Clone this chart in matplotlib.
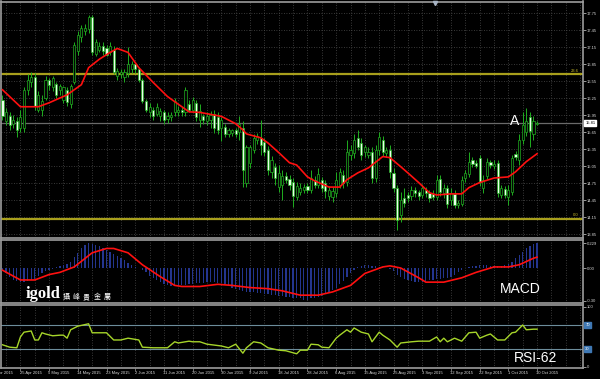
import matplotlib.pyplot as plt
from matplotlib.transforms import blended_transform_factory

plt.rcParams['font.family'] = ['Liberation Sans', 'Noto Sans CJK TC', 'DejaVu Sans']

# daily OHLC (silver), 150 bars
opens = [16.22, 15.84, 15.93, 15.80, 15.84, 15.73, 15.73, 16.40, 16.54, 16.63,
         16.05, 16.05, 16.26, 16.58, 16.44, 16.51, 16.40, 16.22, 16.40, 16.14,
         16.54, 17.08, 17.34, 17.43, 17.47, 17.68, 17.04, 17.11, 17.17, 17.13,
         17.06, 17.11, 16.65, 16.67, 16.63, 16.69, 16.76, 16.85, 16.77, 16.58,
         16.21, 16.00, 16.05, 15.98, 15.93, 16.01, 15.89, 15.91, 16.00, 16.01,
         16.05, 16.01, 16.14, 16.05, 16.17, 15.87, 15.94, 15.84, 15.87, 15.98,
         15.91, 15.73, 15.75, 15.61, 15.64, 15.68, 15.66, 15.73, 14.76, 15.11,
         15.34, 15.52, 15.55, 15.48, 15.34, 14.95, 15.04, 14.68, 14.72, 14.88,
         14.83, 14.77, 14.51, 14.60, 14.63, 14.70, 14.63, 14.81, 14.72, 14.81,
         14.76, 14.52, 14.51, 14.58, 14.72, 14.90, 14.77, 15.25, 15.29, 15.55,
         15.46, 15.30, 15.25, 15.30, 14.84, 15.34, 15.52, 15.29, 15.34, 14.93,
         14.67, 14.19, 14.49, 14.54, 14.52, 14.63, 14.60, 14.54, 14.63, 14.58,
         14.56, 14.51, 14.83, 14.58, 14.67, 14.45, 14.56, 14.37, 14.38, 14.84,
         14.91, 15.16, 15.11, 15.20, 14.67, 14.88, 15.13, 15.06, 15.11, 14.54,
         14.65, 14.51, 14.60, 15.27, 15.16, 15.52, 15.66, 15.91, 15.62, 15.80]
highs = [16.31, 16.08, 16.00, 15.96, 15.91, 16.05, 16.44, 16.67, 16.72, 16.69,
         16.37, 16.30, 16.65, 16.61, 16.65, 16.54, 16.51, 16.47, 16.44, 16.51,
         17.25, 17.43, 17.55, 17.57, 17.73, 17.73, 17.29, 17.25, 17.24, 17.20,
         17.24, 17.17, 16.79, 16.76, 16.76, 17.15, 16.90, 16.88, 16.81, 16.61,
         16.24, 16.16, 16.10, 16.16, 16.08, 16.05, 16.01, 16.00, 16.26, 16.12,
         16.10, 16.44, 16.22, 16.28, 16.22, 16.14, 15.98, 16.00, 16.03, 16.05,
         16.00, 15.91, 15.80, 15.73, 15.71, 15.73, 15.94, 15.84, 15.43, 15.43,
         15.62, 15.64, 15.87, 15.55, 15.41, 15.23, 15.11, 15.07, 14.99, 14.95,
         14.90, 14.84, 14.77, 14.76, 14.74, 14.76, 14.99, 14.88, 15.02, 14.86,
         14.81, 14.70, 14.68, 14.95, 15.02, 14.99, 15.52, 15.43, 15.61, 15.69,
         15.55, 15.43, 15.38, 15.38, 15.43, 15.66, 15.59, 15.39, 15.43, 15.02,
         14.72, 14.60, 14.67, 14.60, 14.70, 14.68, 14.63, 14.74, 14.68, 14.63,
         14.63, 14.90, 14.90, 14.74, 14.72, 14.67, 14.63, 14.45, 14.88, 14.99,
         15.30, 15.22, 15.16, 15.25, 14.90, 15.20, 15.16, 15.16, 15.16, 14.72,
         14.70, 14.72, 15.25, 15.32, 15.61, 16.00, 16.08, 16.00, 15.94, 15.85]
lows = [15.87, 15.78, 15.69, 15.73, 15.57, 15.66, 15.66, 16.31, 16.44, 16.05,
        16.00, 15.94, 16.22, 16.40, 16.37, 16.26, 16.31, 16.17, 16.12, 16.08,
        16.51, 17.02, 17.25, 17.36, 17.41, 17.02, 16.99, 17.06, 17.02, 16.99,
        17.01, 16.67, 16.58, 16.61, 16.54, 16.63, 16.69, 16.70, 16.54, 16.16,
        16.00, 15.91, 15.87, 15.93, 15.85, 15.80, 15.82, 15.84, 15.94, 15.94,
        15.93, 15.94, 16.00, 16.00, 15.84, 15.75, 15.80, 15.77, 15.73, 15.64,
        15.61, 15.50, 15.57, 15.57, 15.59, 15.57, 15.52, 14.68, 14.68, 15.02,
        15.29, 15.45, 15.25, 15.23, 14.90, 14.84, 14.72, 14.60, 14.45, 14.76,
        14.63, 14.33, 14.45, 14.54, 14.58, 14.58, 14.58, 14.67, 14.67, 14.60,
        14.49, 14.45, 14.42, 14.51, 14.67, 14.67, 14.70, 15.16, 15.20, 15.34,
        15.16, 15.22, 15.20, 14.76, 14.77, 15.25, 15.23, 15.22, 14.84, 14.60,
        13.92, 14.06, 14.33, 14.42, 14.45, 14.51, 14.45, 14.49, 14.51, 14.42,
        14.45, 14.45, 14.52, 14.49, 14.31, 14.37, 14.31, 14.31, 14.35, 14.77,
        14.86, 15.04, 15.02, 14.70, 14.58, 14.83, 15.02, 15.00, 14.51, 14.49,
        14.49, 14.37, 14.54, 15.16, 15.07, 15.45, 15.59, 15.38, 15.52, 15.78]
closes = [15.93, 16.00, 15.77, 15.87, 15.69, 15.91, 16.40, 16.58, 16.63, 16.12,
          16.31, 16.21, 16.58, 16.49, 16.61, 16.31, 16.46, 16.44, 16.19, 16.47,
          17.20, 17.36, 17.50, 17.50, 17.68, 17.06, 17.24, 17.17, 17.08, 17.02,
          17.17, 16.72, 16.74, 16.72, 16.72, 16.86, 16.85, 16.76, 16.58, 16.21,
          16.05, 16.10, 15.93, 16.10, 16.03, 15.87, 15.94, 15.96, 16.21, 16.05,
          16.00, 16.40, 16.05, 16.22, 15.91, 16.03, 15.87, 15.94, 15.96, 15.73,
          15.69, 15.87, 15.62, 15.69, 15.68, 15.62, 15.80, 14.99, 15.38, 15.38,
          15.55, 15.59, 15.43, 15.30, 14.99, 15.16, 14.84, 14.93, 14.88, 14.81,
          14.72, 14.52, 14.70, 14.67, 14.68, 14.63, 14.84, 14.72, 14.91, 14.67,
          14.61, 14.63, 14.61, 14.81, 14.95, 14.76, 15.30, 15.34, 15.52, 15.39,
          15.25, 15.38, 15.30, 14.84, 15.34, 15.57, 15.30, 15.34, 14.95, 14.67,
          14.10, 14.45, 14.40, 14.49, 14.63, 14.58, 14.52, 14.67, 14.58, 14.49,
          14.51, 14.81, 14.60, 14.67, 14.38, 14.58, 14.37, 14.40, 14.81, 14.93,
          15.13, 15.09, 15.06, 14.77, 14.81, 15.13, 15.07, 15.09, 14.58, 14.67,
          14.54, 14.63, 15.20, 15.22, 15.52, 15.78, 15.84, 15.68, 15.84, 15.81]

# moving average (red), read at some bars
ma_bar = [0, 5, 10, 13, 18, 22, 24, 27, 30, 32, 35, 38, 42, 46, 50, 52, 55, 61, 65, 67,
          68, 72, 74, 77, 80, 82, 85, 87, 91, 94, 96, 99, 102, 106, 108, 111, 113, 116,
          119, 121, 125, 128, 130, 133, 137, 141, 143, 146, 149]
ma_val = [16.40, 16.10, 16.10, 16.17, 16.31, 16.49, 16.79, 16.94, 17.06, 17.13, 17.06,
          16.79, 16.53, 16.28, 16.10, 16.01, 16.00, 15.93, 15.80, 15.69, 15.62, 15.55,
          15.46, 15.29, 15.11, 15.07, 14.86, 14.79, 14.68, 14.68, 14.81, 14.93, 15.02,
          15.22, 15.20, 15.04, 14.93, 14.76, 14.58, 14.54, 14.56, 14.56, 14.67, 14.76,
          14.84, 14.86, 14.95, 15.13, 15.27]

macd_hist = [-0.03, -0.05, -0.08, -0.11, -0.12, -0.13, -0.13, -0.12, -0.11, -0.10,
             -0.07, -0.05, -0.03, -0.02, -0.01, 0.01, 0.02, 0.03, 0.04, 0.06,
             0.10, 0.14, 0.18, 0.21, 0.23, 0.22, 0.21, 0.20, 0.18, 0.17,
             0.15, 0.13, 0.11, 0.09, 0.07, 0.05, 0.03, 0.01, 0.00, -0.02,
             -0.04, -0.07, -0.09, -0.11, -0.13, -0.15, -0.16, -0.17, -0.17, -0.17,
             -0.16, -0.16, -0.15, -0.15, -0.14, -0.14, -0.14, -0.13, -0.13, -0.13,
             -0.14, -0.14, -0.15, -0.16, -0.18, -0.19, -0.20, -0.21, -0.22, -0.22,
             -0.22, -0.23, -0.23, -0.24, -0.24, -0.25, -0.25, -0.26, -0.26, -0.27,
             -0.27, -0.28, -0.28, -0.28, -0.29, -0.29, -0.28, -0.28, -0.27, -0.26,
             -0.24, -0.22, -0.20, -0.18, -0.15, -0.12, -0.08, -0.05, -0.02, 0.01,
             0.02, 0.03, 0.03, 0.02, 0.02, 0.01, 0.01, 0.00, -0.01, -0.03,
             -0.06, -0.08, -0.10, -0.11, -0.12, -0.13, -0.13, -0.13, -0.12, -0.11,
             -0.11, -0.10, -0.10, -0.09, -0.09, -0.08, -0.06, -0.04, -0.02, 0.00,
             0.01, 0.02, 0.02, 0.03, 0.03, 0.03, 0.02, 0.02, 0.02, 0.02,
             0.03, 0.04, 0.06, 0.09, 0.12, 0.15, 0.18, 0.20, 0.22, 0.23]
sig_bar = [0, 5, 9, 13, 16, 20, 25, 29, 31, 35, 39, 44, 48, 50, 55, 60, 64, 69, 74, 78,
           83, 88, 92, 97, 101, 106, 108, 111, 116, 118, 123, 128, 132, 137, 141, 144, 148, 149]
sig_val = [-0.02, -0.11, -0.11, -0.06, -0.04, 0.01, 0.14, 0.18, 0.18, 0.14,
           0.03, -0.08, -0.16, -0.17, -0.17, -0.15, -0.16, -0.18, -0.19, -0.21,
           -0.25, -0.25, -0.22, -0.16, -0.05, 0.01, 0.02, 0.00, -0.09, -0.13,
           -0.13, -0.09, -0.04, 0.01, 0.01, 0.03, 0.09, 0.10]

rsi_bar = [0, 2, 4, 5, 6, 8, 9, 10, 11, 12, 14, 16, 17, 18, 19, 21, 24, 25, 27, 29,
           31, 33, 35, 38, 39, 42, 46, 48, 49, 52, 53, 55, 57, 61, 63, 65, 67, 68, 70, 72,
           74, 77, 79, 82, 83, 85, 86, 88, 89, 91, 93, 94, 96, 97, 98, 100, 102, 103, 105, 106,
           108, 110, 111, 114, 116, 119, 121, 122, 123, 124, 126, 128, 130, 132, 133, 135, 136, 138, 140, 142,
           143, 145, 146, 148, 149]
rsi_val = [37, 33, 32, 50, 58, 60, 45, 45, 57, 55, 52, 53, 53, 48, 62, 68, 72, 57, 57, 57,
           45, 45, 48, 45, 33, 32, 32, 42, 40, 43, 42, 42, 38, 35, 32, 38, 23, 32, 42, 40,
           32, 28, 27, 22, 28, 28, 38, 37, 33, 32, 48, 53, 62, 58, 65, 58, 55, 42, 58, 53,
           45, 33, 40, 42, 43, 43, 50, 42, 48, 42, 48, 43, 57, 58, 48, 53, 55, 45, 45, 57,
           58, 70, 62, 63, 63]

date_labels = ['16 Apr 2015', '25 Apr 2015', '5 May 2015', '14 May 2015', '23 May 2015',
               '2 Jun 2015', '11 Jun 2015', '20 Jun 2015', '30 Jun 2015', '9 Jul 2015',
               '18 Jul 2015', '28 Jul 2015', '6 Aug 2015', '15 Aug 2015', '25 Aug 2015',
               '3 Sep 2015', '12 Sep 2015', '22 Sep 2015', '1 Oct 2015', '10 Oct 2015']
price_ticks = [17.75, 17.45, 17.15, 16.85, 16.55, 16.25, 15.95, 15.65, 15.35, 15.05,
               14.75, 14.45, 14.15, 13.85]
fib_levels = [16.67, 14.12]
fib_names = ['23.6', '0.0']
last_price = 15.81
logo_chars = ['攝', '峰', '貴', '金', '屬']

BG = '#000000'
GRID = '#4d4d4d'
FRAME = '#9c9c9c'
TXT = '#d8d8d8'
GREEN = '#1fae1f'

W, H = 600, 379
fig = plt.figure(figsize=(6, 3.79), dpi=100, facecolor=BG)


def box(x0, y0, x1, y1):
    return [x0 / W, 1 - y1 / H, (x1 - x0) / W, (y1 - y0) / H]


ax = fig.add_axes(box(0.5, 1.5, 583, 238))
ax_m = fig.add_axes(box(0.5, 240, 583, 303))
ax_r = fig.add_axes(box(0.5, 305, 583, 368))

n = len(closes)
bars = list(range(n))
label_bars = [-3 + 8 * k for k in range(len(date_labels))]
grid_bars = list(range(1, 162, 4))

for a in (ax, ax_m, ax_r):
    a.set_facecolor(BG)
    a.set_xlim(-0.55, 161.8)
    for s in a.spines.values():
        s.set_color(FRAME)
        s.set_linewidth(1.2)
    for gb in grid_bars:
        a.axvline(gb, color=GRID, lw=0.6, ls=(0, (1, 2)), zorder=0)
    a.yaxis.tick_right()
    a.tick_params(axis='y', colors=TXT, labelsize=3, length=2, pad=1, width=0.5)
    a.tick_params(axis='x', length=0, labelbottom=False)

# main price panel
ax.set_ylim(13.78, 17.96)
ax.set_yticks(price_ticks)
ax.set_yticklabels([f'{p:.2f}' for p in price_ticks])
for p in price_ticks:
    ax.axhline(p, color=GRID, lw=0.6, ls=(0, (1, 2)), zorder=0)

for lv, nm in zip(fib_levels, fib_names):
    ax.axhline(lv, color='#a89f1c', lw=1.6, zorder=1)
    ax.text(160.5, lv + 0.03, nm, color='#c8bc2a', fontsize=3, ha='right', va='bottom')

ax.axhline(last_price, color='#6a6a6a', lw=0.9, zorder=1)
trans = blended_transform_factory(ax.transAxes, ax.transData)
ax.text(1.004, last_price, f'{last_price:.2f}', transform=trans, fontsize=3, color='black',
        va='center', ha='left', clip_on=False,
        bbox=dict(boxstyle='square,pad=0.25', fc='white', ec='white'))
ax.plot([120.6], [17.93], marker='v', ms=3, color='#a8b4c4', clip_on=False, zorder=5)

ax.vlines(bars, lows, highs, color=GREEN, lw=0.7, zorder=2)
for i in bars:
    o, c = opens[i], closes[i]
    lo, hi = min(o, c), max(o, c)
    if hi - lo < 0.01:
        hi = lo + 0.01
    fc = '#050505' if c >= o else '#eaffea'
    ax.bar(i, hi - lo, bottom=lo, width=0.6, color=fc, edgecolor=GREEN, lw=0.5, zorder=3)

ax.plot(ma_bar, ma_val, color='#ff1010', lw=1.2, zorder=4)
ax.text(142.8, 15.84, 'A', color='white', fontsize=10, ha='center', va='center', zorder=5)

# MACD panel
ax_m.set_ylim(-0.322, 0.258)
ax_m.set_yticks([0.229, 0.0, -0.30])
ax_m.set_yticklabels(['0.229', '0.00', '-0.30'])
ax_m.bar(bars, macd_hist, width=0.35, color='#24358f', zorder=2)
ax_m.plot(sig_bar, sig_val, color='#ff1010', lw=1.2, zorder=3)
ax_m.text(144.3, -0.193, 'MACD', color='white', fontsize=10, ha='center', va='center')
ax_m.text(0.043, -0.277, 'igold', color='white', fontsize=12,
          transform=blended_transform_factory(ax_m.transAxes, ax_m.transData),
          fontweight='bold', family='Liberation Serif', va='baseline', ha='left')
for k, ch in enumerate(logo_chars):
    ax_m.text((65.5 + 10.3 * k) / 583, -0.27, ch, color='white', fontsize=5,
              transform=blended_transform_factory(ax_m.transAxes, ax_m.transData),
              family=['Noto Sans CJK TC', 'DejaVu Sans'], va='center', ha='center')

# RSI panel
ax_r.set_ylim(-1.7, 103.3)
ax_r.set_yticks([100, 0])
ax_r.set_yticklabels(['100', '0'])
for lv in (70, 30):
    ax_r.axhline(lv, color='#6d8d9c', lw=0.8, zorder=1)
    ax_r.text(1.004, lv, str(lv), transform=blended_transform_factory(ax_r.transAxes, ax_r.transData),
              fontsize=3, color='white', va='center', ha='left', clip_on=False,
              bbox=dict(boxstyle='square,pad=0.25', fc='#3f78b4', ec='#3f78b4'))
ax_r.plot(rsi_bar, rsi_val, color='#a6d52a', lw=1.0, zorder=3)
ax_r.text(148.5, 15, 'RSI-62', color='white', fontsize=10, ha='center', va='center')

ax_r.set_xticks(label_bars[1:])
ax_r.tick_params(axis='x', length=2, color=FRAME, width=0.5)
tb = blended_transform_factory(ax_r.transData, ax_r.transAxes)
for b, lab in zip(label_bars, date_labels):
    ax_r.text(b - 0.2, -0.04, lab, transform=tb, fontsize=3, color=TXT, ha='left', va='top',
              clip_on=False)

fig.savefig('out.png', dpi=100, facecolor=BG)
